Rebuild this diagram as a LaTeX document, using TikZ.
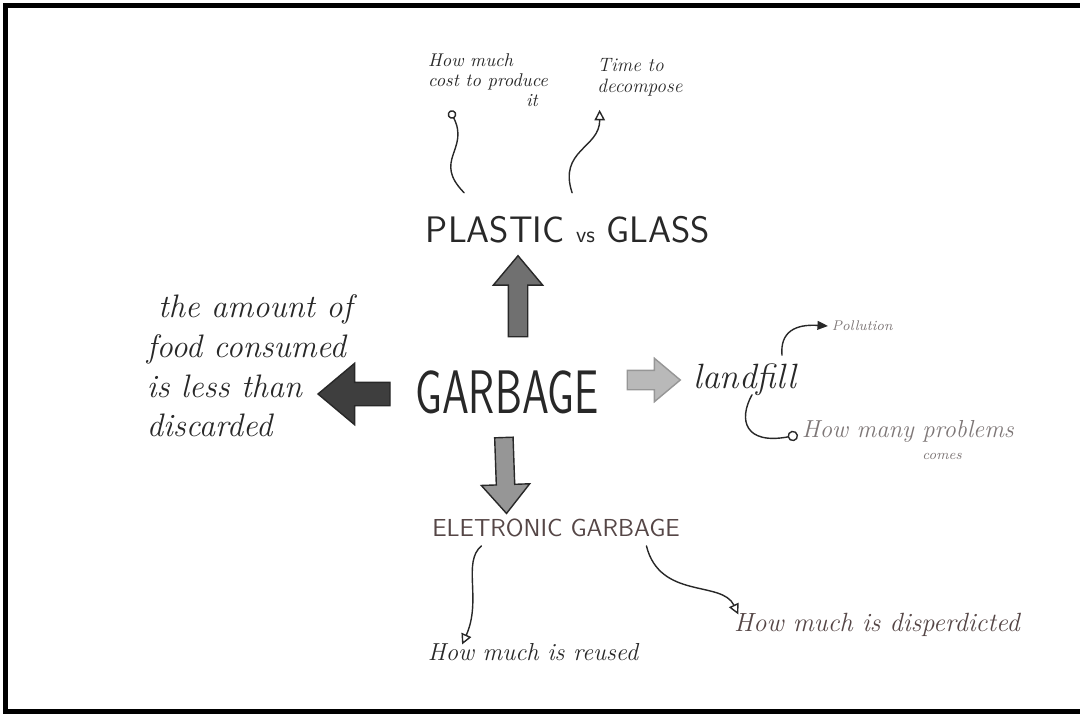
\documentclass[tikz,border=0pt]{standalone}
\usepackage{graphicx}
\usepackage{tikz}
\usetikzlibrary{arrows.meta,shapes.arrows,positioning}
\definecolor{pencil}{RGB}{40,40,40}
\definecolor{pencilgray}{RGB}{125,118,118}
\definecolor{pencilbrown}{RGB}{85,70,70}
\definecolor{arrowdark}{RGB}{62,62,62}
\definecolor{arrowmid}{RGB}{112,112,112}
\definecolor{arrowsoft}{RGB}{150,150,150}
\definecolor{arrowlight}{RGB}{185,185,185}
\tikzstyle{bigarrow} = [single arrow, draw=pencil, thick, single arrow tip angle=80, minimum width=0pt]
\tikzstyle{caps} = [font=\sffamily, text=pencil, inner sep=2pt]
\tikzstyle{hand} = [text=pencil, inner sep=2pt]
\tikzstyle{squiggle} = [line width=0.8pt, pencil, line cap=round]

\begin{document}
\begin{tikzpicture}[x=0.02cm, y=-0.02cm]
\useasboundingbox (0,0) rectangle (1080,717);
% Frame
\draw[line width=3pt] (1080,5.5) -- (5.5,5.5) -- (5.5,711.5) -- (1080,711.5);

% Centre
\node[caps] (garbage) at (507,392) {\scalebox{0.7}[1]{\fontsize{35}{40}\selectfont GARBAGE}};

% Branches
\node[caps] (plastic) at (568,230) {\fontsize{21}{24}\selectfont PLASTIC {\fontsize{13}{16}\selectfont vs} GLASS};
\node[caps, text=pencilbrown] (eletronic) at (556,528) {\fontsize{14}{18}\selectfont ELETRONIC GARBAGE};
\node[hand, font=\itshape\fontsize{20}{24}\selectfont] (landfill) at (745,380) {landfill};
\node[hand, anchor=west, align=left, font=\itshape\fontsize{18.5}{22.5}\selectfont] (food) at (143,366) {\ the amount of\\food consumed\\is less than\\discarded};

% Leaves
\node[hand, align=left, font=\itshape\fontsize{10.5}{11.5}\selectfont] (cost) at (488,80) {How much\\cost to produce\\\hspace*{5.3em}it};
\node[hand, align=left, font=\itshape\fontsize{11}{12}\selectfont] (decompose) at (640,77) {Time to\\ decompose};
\node[hand, text=pencilgray, anchor=west, font=\itshape\fontsize{8}{10}\selectfont] (pollution) at (828,326) {Pollution};
\node[hand, text=pencilgray, anchor=west, align=left, font=\itshape\fontsize{14}{12}\selectfont] (problems) at (798,440) {How many problems\\\hspace*{4.9em}{\fontsize{8}{10}\selectfont comes}};
\node[hand, font=\itshape\fontsize{14}{17}\selectfont] (reused) at (533,652) {How much is reused};
\node[hand, text=pencilbrown, font=\itshape\fontsize{15}{18}\selectfont] (dispersed) at (877,625) {How much is disperdicted};

% Block arrows
\node[bigarrow, fill=arrowmid, shape border rotate=90, minimum height=1.62cm, inner sep=0.18cm, single arrow head extend=0.3cm] (uparrow) at (518,302) {};
\node[bigarrow, fill=arrowdark, shape border rotate=180, minimum height=1.44cm, inner sep=0.22cm, single arrow head extend=0.38cm] (leftarrow) at (361,394) {};
\node[bigarrow, fill=arrowlight, draw=arrowsoft, minimum height=1.06cm, inner sep=0.18cm, single arrow head extend=0.24cm] (rightarrow) at (648,380) {};
\node[bigarrow, fill=arrowsoft, shape border rotate=270, rotate=2, minimum height=1.52cm, inner sep=0.17cm, single arrow head extend=0.3cm] (downarrow) at (505,470) {};

% Thin connectors
\draw[squiggle, -{Circle[open,length=5pt]}] ([xshift=0.84cm,yshift=0.4cm]plastic.north west) .. controls (432,160) and (470,150) .. ([xshift=-0.76cm]cost.south);
\draw[squiggle, -{Triangle[open,length=6pt,width=6pt]}] ([xshift=3cm,yshift=0.4cm]plastic.north west) .. controls (558,150) and (600,148) .. ([xshift=0.12cm,yshift=-0.2cm]decompose.south west);
\draw[squiggle, -{Triangle[length=6pt,width=5pt]}] ([xshift=0.74cm,yshift=0.1cm]landfill.north) .. controls (780,332) and (795,324) .. (pollution.west);
\draw[squiggle, -{Circle[open,length=6pt]}] ([xshift=0.14cm,yshift=0.1cm]landfill.south) .. controls (738,420) and (745,445) .. ([yshift=0.1cm]problems.west);
\draw[squiggle, -{Triangle[open,length=6pt,width=6pt]}] ([xshift=1.06cm,yshift=-0.1cm]eletronic.south west) .. controls (462,562) and (482,600) .. ([xshift=0.76cm,yshift=-0.1cm]reused.north west);
\draw[squiggle, -{Triangle[open,length=6pt,width=6pt]}] ([xshift=4.36cm,yshift=-0.1cm]eletronic.south west) .. controls (660,600) and (722,580) .. ([xshift=0.16cm,yshift=-0.1cm]dispersed.north west);
\end{tikzpicture}
\end{document}
